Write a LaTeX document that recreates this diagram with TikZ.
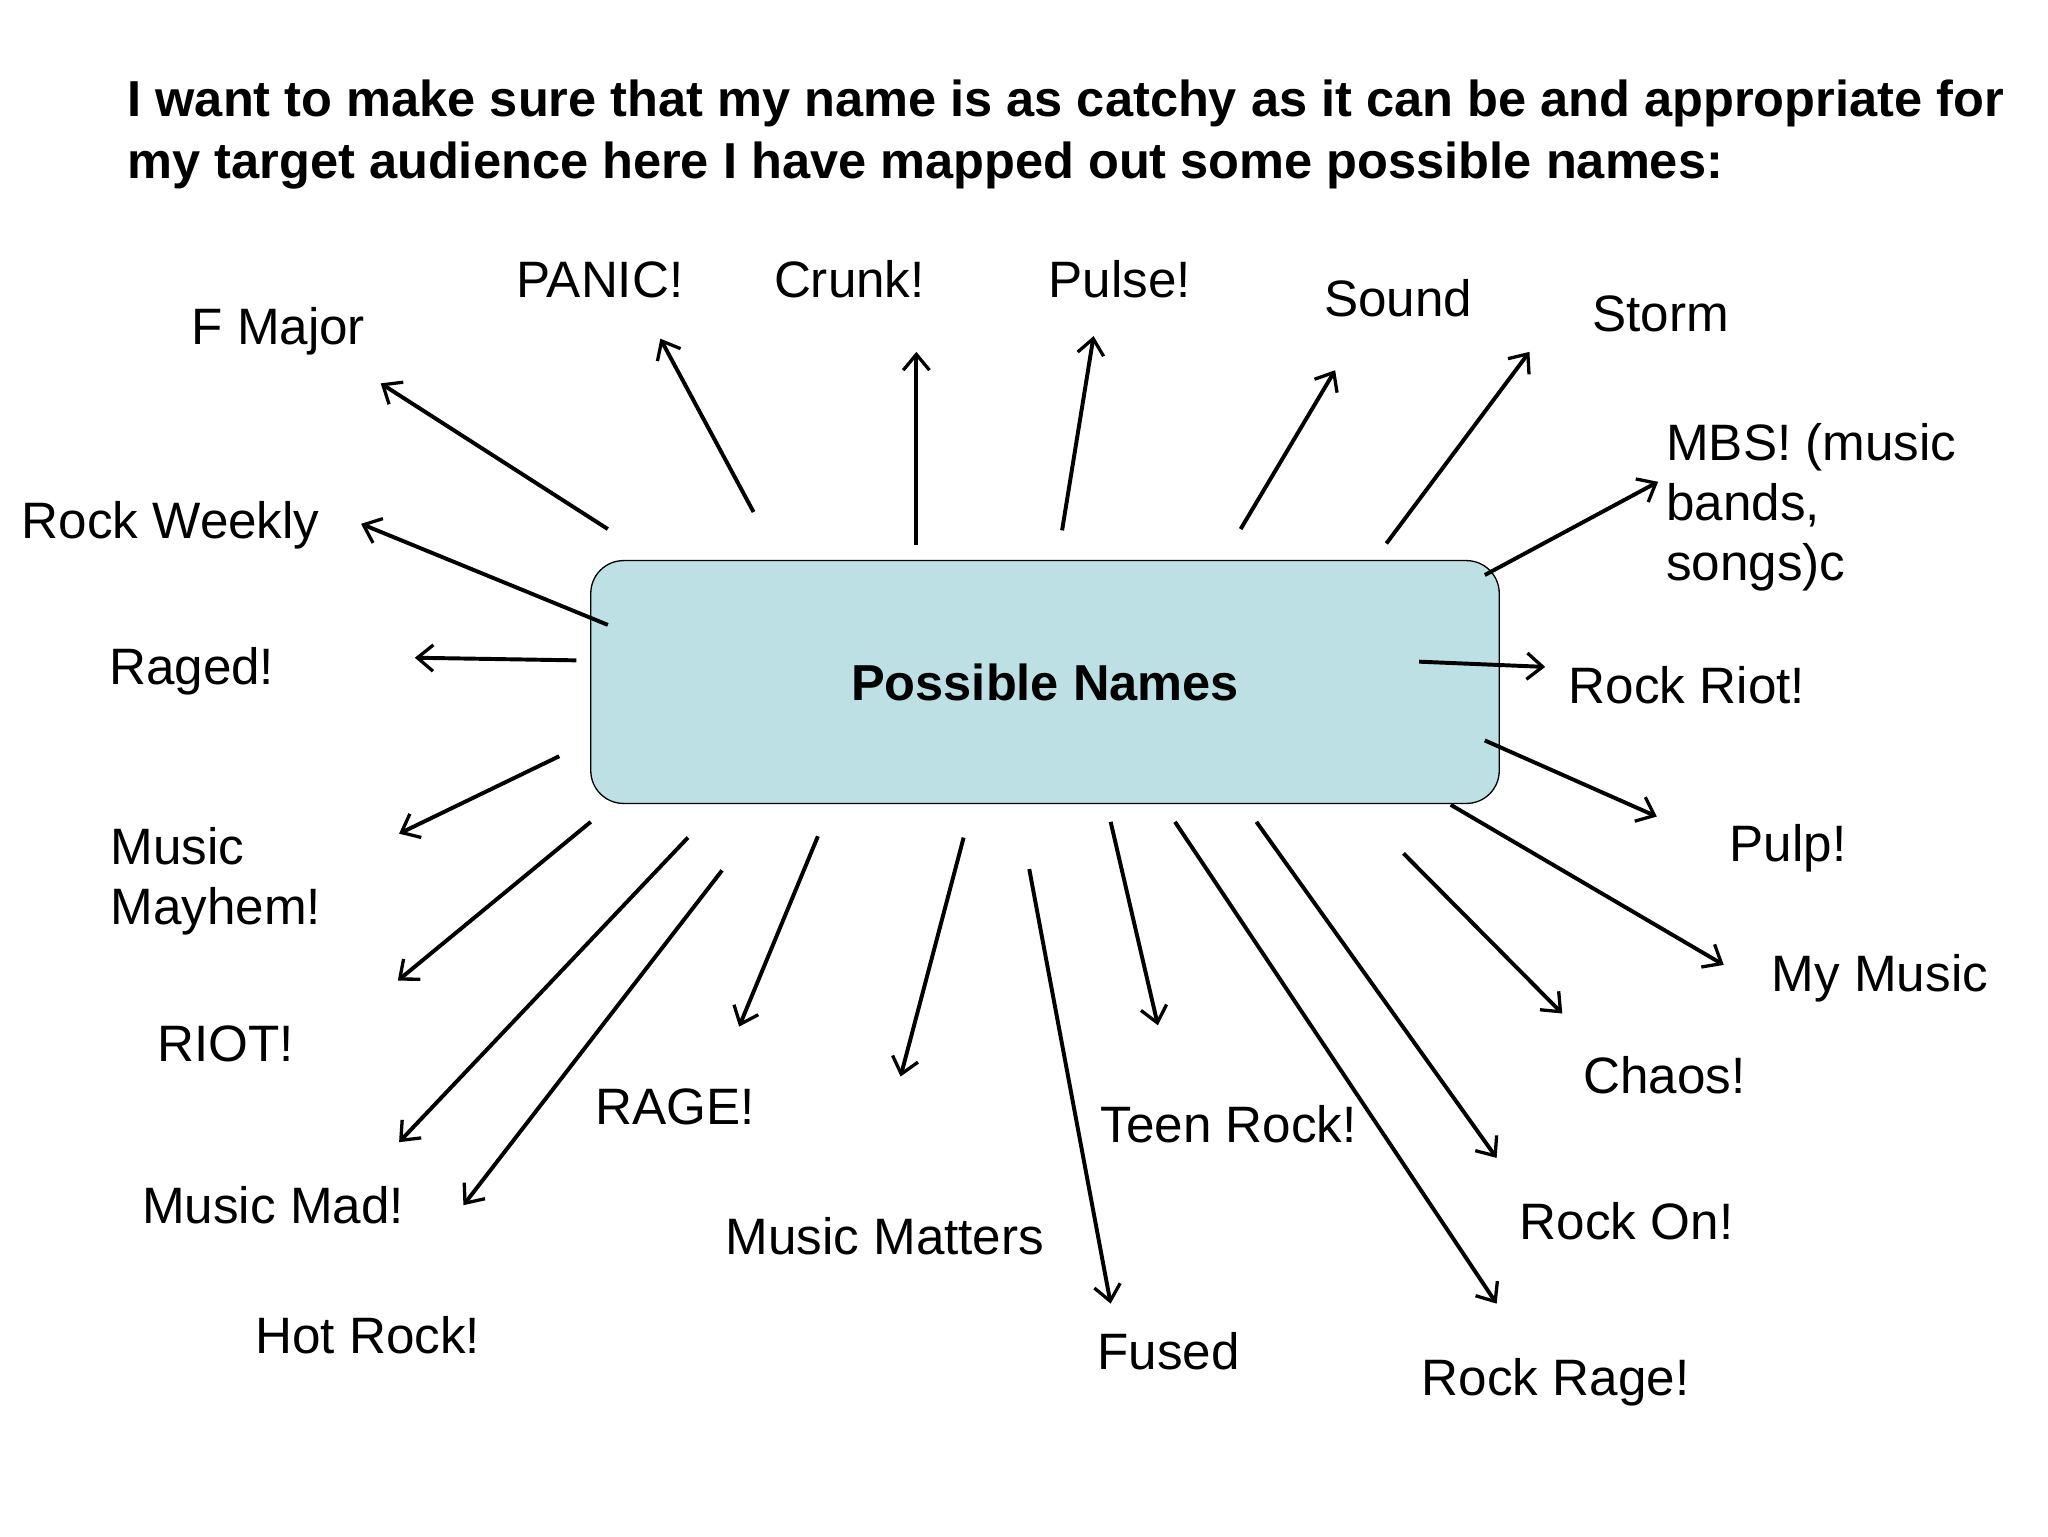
\documentclass[tikz,border=0pt]{standalone}
\usepackage{fontspec}
\setmainfont{Liberation Sans}
\usetikzlibrary{arrows.meta}
\definecolor{boxfill}{HTML}{BCE0E3}
\begin{document}
\begin{tikzpicture}[x=1pt,y=-1pt,
  lbl/.style={font=\fontsize{39}{46}\selectfont,inner sep=0pt},
  arr/.style={line width=3pt,-{Straight Barb[length=12pt,width=20pt,line width=2.5pt]}}]
\useasboundingbox[fill=white] (0,0) rectangle (1560,1170);
\node[font=\fontsize{38.5}{47}\selectfont\bfseries,anchor=north west,align=left,inner sep=0pt] (title) at (97,61)
 {I want to make sure that my name is as catchy as it can be and appropriate for\\my target audience here I have mapped out some possible names:};
\node[draw,line width=1pt,fill=boxfill,rounded corners=25pt,minimum width=692pt,minimum height=185pt,
  font=\fontsize{38.5}{40}\selectfont\bfseries] (box) at (796,519.5) {Possible Names};
\foreach \n/\tx/\ty/\hx/\hy/\lx/\ly/\t in {
 a/463/403/290/292/212/252/F Major,
 b/574/390/503/258/457/213/PANIC!,
 c/698/415/698/268/647/213/Crunk!,
 d/809/404/833/256/853/213/Pulse!,
 e/945/403/1017/282/1065/227/Sound,
 f/1056/414/1165/268/1265/239/Storm,
 h/463/476/275/399/130/400/Rock Weekly,
 i/439/503/316/501/146/511/Raged!,
 j/1081/504/1177/508/1285/522/Rock Riot!,
 l/1131/564/1262/622/1362/646/Pulp!,
 m/450/626/303/747/172/795/RIOT!,
 n/1105/613/1313/735/1432/745/My Music,
 o/524/638/304/870/208/918/Music Mad!,
 p/550/663/353/918/280/1017/Hot Rock!,
 q/623/637/563/782/514/843/RAGE!,
 r/734/638/686/820/674/942/Music Matters,
 s/784/662/846/993/890/1029/Fused,
 t/846/626/882/781/936/856/Teen Rock!,
 u/895/626/1140/993/1185/1053/Rock Rage!,
 v/957/626/1140/882/1239/930/Rock On!,
 w/1069/650/1190/772/1268/819/Chaos!}{
 \coordinate (s\n) at (\tx,\ty);
 \coordinate (e\n) at (\hx,\hy);
 \node[lbl] (L\n) at (\lx,\ly) {\t};
 \draw[arr] (s\n) -- (e\n);
}
\coordinate (sg) at (1131,438); \coordinate (eg) at (1263,367);
\draw[arr] (sg) -- (eg);
\node[lbl,anchor=north west,align=left] (Lg) at (1269,322) {MBS! (music\\bands,\\songs)c};
\coordinate (sk) at (426,576); \coordinate (ek) at (304,635);
\draw[arr] (sk) -- (ek);
\node[lbl,anchor=north west,align=left] (Lk) at (84,630) {Music\\Mayhem!};
\end{tikzpicture}
\end{document}
